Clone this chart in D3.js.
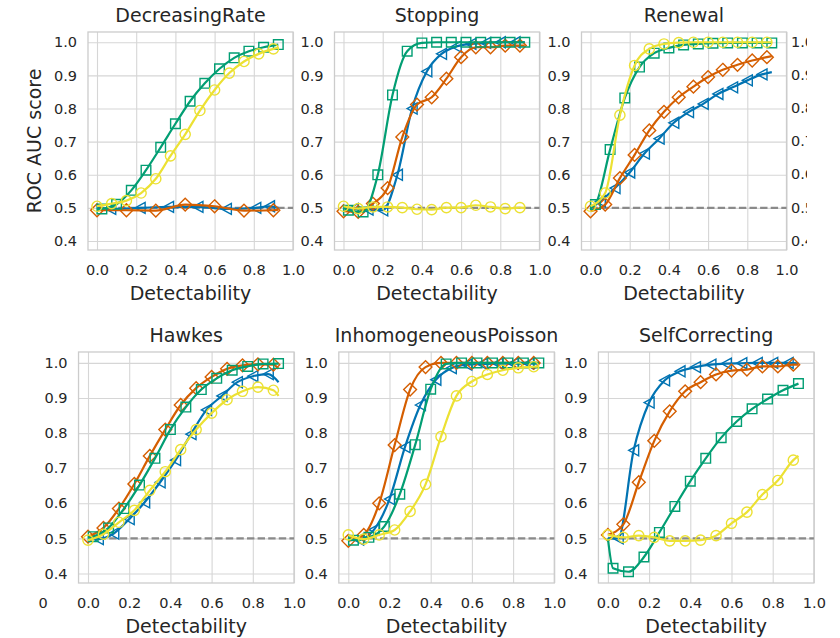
<!DOCTYPE html>
<html><head><meta charset="utf-8">
<script src="https://cdn.jsdelivr.net/npm/d3@7"></script>
<style>
body{margin:0;background:#fff;}
svg text{font-family:"DejaVu Sans",sans-serif;fill:#262626;}
</style></head><body>
<svg id="c" width="840" height="638"></svg>
<script>
// ---------- data ----------
const panelNames = ["DecreasingRate","Stopping","Renewal","Hawkes","InhomogeneousPoisson","SelfCorrecting"];
const xTicks = [0,0.2,0.4,0.6,0.8,1.0];
const yTicks = [0.4,0.5,0.6,0.7,0.8,0.9,1.0];
const chance = 0.5;

// detectability values where each series is sampled (marks = indices carrying a marker)
const xCircleDiamond = [0,0.075,0.15,0.225,0.3,0.375,0.45,0.525,0.6,0.675,0.75,0.825,0.9,0.925];
const xSquare        = [0,0.025,0.1,0.175,0.25,0.325,0.4,0.475,0.55,0.625,0.7,0.775,0.85,0.925];
const xTriangle      = [0,0.05,0.125,0.2,0.275,0.35,0.425,0.5,0.575,0.65,0.725,0.8,0.875,0.925];
const xDRDiamond     = [0,0.15,0.3,0.45,0.6,0.75,0.9,0.925];
const xDRTriangle    = [0,0.07,0.22,0.365,0.515,0.66,0.81,0.88,0.925];
const gCD  = {x:xCircleDiamond, marks:[0,12]};
const gSq  = {x:xSquare, marks:[1,13]};
const gTr  = {x:xTriangle, marks:[1,12]};
const gDRD = {x:xDRDiamond, marks:[0,6]};
const gDRT = {x:xDRTriangle, marks:[1,7]};

// ROC AUC values
const drBlue   = [0.5,0.497,0.5,0.503,0.503,0.497,0.5,0.505,0.5];
const drOrange = [0.493,0.493,0.492,0.51,0.505,0.492,0.493,0.495];
const drGreen  = [0.495,0.497,0.511,0.553,0.614,0.683,0.754,0.822,0.876,0.92,0.953,0.973,0.985,0.993];
const drYellow = [0.505,0.513,0.522,0.545,0.588,0.657,0.722,0.794,0.856,0.907,0.942,0.965,0.98,0.984];

const stBlue   = [0.5,0.497,0.495,0.493,0.60,0.80,0.912,0.965,0.987,0.995,0.998,1.0,1.0,1.0];
const stOrange = [0.49,0.488,0.513,0.56,0.714,0.812,0.834,0.89,0.955,0.985,0.985,0.99,0.99,0.99];
const stGreen  = [0.5,0.493,0.488,0.60,0.841,0.973,0.998,1.0,1.0,1.0,1.0,1.0,1.0,1.0];
const stYellow = [0.505,0.498,0.503,0.503,0.501,0.496,0.495,0.501,0.501,0.508,0.503,0.498,0.501,0.5];

const rnBlue   = [0.5,0.52,0.56,0.607,0.664,0.709,0.757,0.789,0.814,0.844,0.864,0.885,0.903,0.91];
const rnOrange = [0.49,0.51,0.59,0.66,0.734,0.79,0.834,0.866,0.895,0.917,0.932,0.945,0.955,0.958];
const rnGreen  = [0.5,0.51,0.676,0.832,0.925,0.967,0.983,0.992,0.995,0.997,0.998,0.998,0.998,0.998];
const rnYellow = [0.505,0.545,0.78,0.93,0.98,0.995,0.999,1.0,1.0,1.0,1.0,1.0,1.0,1.0];

const hkBlue   = [0.5,0.498,0.514,0.555,0.603,0.66,0.723,0.797,0.866,0.906,0.945,0.962,0.968,0.945];
const hkOrange = [0.505,0.53,0.585,0.655,0.735,0.81,0.88,0.928,0.96,0.983,0.993,0.996,0.995,0.983];
const hkGreen  = [0.5,0.505,0.53,0.585,0.652,0.728,0.81,0.874,0.924,0.956,0.979,0.99,0.997,0.998];
const hkYellow = [0.495,0.512,0.546,0.58,0.637,0.69,0.753,0.81,0.857,0.895,0.919,0.931,0.922,0.906];

const ipBlue   = [0.5,0.497,0.525,0.612,0.76,0.88,0.952,0.985,0.995,0.997,0.998,0.998,0.998,0.998];
const ipOrange = [0.493,0.51,0.60,0.766,0.924,0.988,1.0,1.0,1.0,1.0,1.0,1.0,1.0,1.0];
const ipGreen  = [0.5,0.495,0.503,0.534,0.626,0.767,0.925,0.997,1.0,1.0,1.0,1.0,1.0,1.0];
const ipYellow = [0.51,0.498,0.51,0.524,0.577,0.654,0.79,0.906,0.947,0.967,0.979,0.986,0.989,0.99];

const scBlue   = [0.5,0.5,0.751,0.887,0.95,0.976,0.988,0.995,0.998,0.999,1.0,1.0,1.0,0.999];
const scOrange = [0.51,0.54,0.66,0.778,0.862,0.919,0.945,0.967,0.978,0.981,0.99,0.99,0.995,0.995];
const scGreen  = [0.5,0.415,0.405,0.447,0.517,0.591,0.663,0.728,0.787,0.833,0.869,0.897,0.922,0.941];
const scYellow = [0.51,0.503,0.508,0.503,0.493,0.493,0.495,0.508,0.543,0.575,0.625,0.665,0.723,0.735];

const panelSeries = [
  [[drBlue,gDRT,"blue"],[drOrange,gDRD,"orange"],[drGreen,gSq,"green"],[drYellow,gCD,"yellow"]],
  [[stBlue,gTr,"blue"],[stOrange,gCD,"orange"],[stGreen,gSq,"green"],[stYellow,gCD,"yellow"]],
  [[rnBlue,gTr,"blue"],[rnOrange,gCD,"orange"],[rnGreen,gSq,"green"],[rnYellow,gCD,"yellow"]],
  [[hkBlue,gTr,"blue"],[hkOrange,gCD,"orange"],[hkGreen,gSq,"green"],[hkYellow,gCD,"yellow"]],
  [[ipBlue,gTr,"blue"],[ipOrange,gCD,"orange"],[ipGreen,gSq,"green"],[ipYellow,gCD,"yellow"]],
  [[scBlue,gTr,"blue"],[scOrange,gCD,"orange"],[scGreen,gSq,"green"],[scYellow,gCD,"yellow"]]
];

// ---------- styles / layout ----------
const styles = {
  blue:  {color:"#0173b2", shape:"M-5,0L5,-5.5L5,5.5Z"},
  orange:{color:"#d55e00", shape:"M0,-6.4L6.4,0L0,6.4L-6.4,0Z"},
  green: {color:"#029e73", shape:"M-4.8,-4.8H4.8V4.8H-4.8Z"},
  yellow:{color:"#ece133", shape:"M5.1,0A5.1,5.1 0 1,1 -5.1,0A5.1,5.1 0 1,1 5.1,0Z"}
};
const rows = [
  {yRange:[250,32], x0s:[97,343.5,590.5], unit:196},
  {yRange:[583,352], x0s:[88,348.3,607.9], unit:206}
];
const xDomain = [-0.046,1.0];
const yDomain = [0.373,1.031];
const fmt = d3.format(".1f");
const svg = d3.select("#c");

panelNames.forEach((name,i)=>{
  const r = rows[Math.floor(i/3)], c = i%3, x0 = r.x0s[c];
  const x = d3.scaleLinear().domain(xDomain).range([x0+xDomain[0]*r.unit, x0+xDomain[1]*r.unit]);
  const y = d3.scaleLinear().domain(yDomain).range(r.yRange);
  const [L,R] = x.range(), [B,T] = y.range();
  const g = svg.append("g");

  const ax = g.append("g").attr("transform",`translate(0,${B})`)
    .call(d3.axisBottom(x).tickValues(xTicks).tickFormat(fmt).tickSize(-(B-T)).tickPadding(14.3));
  const ay = g.append("g").attr("transform",`translate(${L},0)`)
    .call(d3.axisLeft(y).tickValues(yTicks).tickFormat(fmt).tickSize(-(R-L)).tickPadding(11));
  [ax,ay].forEach(a=>{
    a.select(".domain").remove();
    a.attr("font-family","DejaVu Sans").attr("font-size",14.5);
    a.selectAll("line").attr("stroke","#d6d6d6").attr("stroke-width",1.1);
    a.selectAll("text").attr("fill","#262626");
  });
  g.append("rect").attr("x",L).attr("y",T).attr("width",R-L).attr("height",B-T)
    .attr("fill","none").attr("stroke","#cccccc").attr("stroke-width",1.3);

  // chance level
  g.append("line").attr("x1",x(0)).attr("x2",x(1)).attr("y1",y(chance)).attr("y2",y(chance))
    .attr("stroke","#8a8a8a").attr("stroke-width",2.2).attr("stroke-dasharray","7.4,3.2");

  const line = d3.line().x(d=>x(d[0])).y(d=>y(d[1])).curve(d3.curveMonotoneX);
  panelSeries[i].forEach(([vals,grid,kind])=>{
    const st = styles[kind];
    const pts = grid.x.map((xv,k)=>[xv, vals[k]]);
    g.append("path").attr("d",line(pts)).attr("fill","none").attr("stroke",st.color).attr("stroke-width",2.2);
    const mk = pts.slice(grid.marks[0], grid.marks[1]+1);
    g.selectAll(null).data(mk).join("path")
      .attr("transform",d=>`translate(${x(d[0])},${y(d[1])})`)
      .attr("d",st.shape).attr("fill","none").attr("stroke",st.color).attr("stroke-width",1.4);
  });

  g.append("text").attr("x",(L+R)/2).attr("y",T-10).attr("text-anchor","middle").attr("font-size",19).text(name);
  g.append("text").attr("x",(L+R)/2).attr("y",B+50).attr("text-anchor","middle").attr("font-size",19).text("Detectability");
  if(i===0){
    g.append("text").attr("transform",`translate(41,${(T+B)/2}) rotate(-90)`).attr("text-anchor","middle")
      .attr("font-size",19).text("ROC AUC score");
  }
});

// fragments of neighbouring panels cut off by the figure crop
svg.append("text").attr("x",43).attr("y",608).attr("text-anchor","middle").attr("font-size",14.5).text("0");
svg.append("clipPath").attr("id","cut").append("rect").attr("x",780).attr("y",0).attr("width",27).attr("height",300);
const yTop = d3.scaleLinear().domain(yDomain).range(rows[0].yRange);
svg.append("g").attr("clip-path","url(#cut)").selectAll("text").data(yTicks).join("text")
  .attr("x",814).attr("y",d=>yTop(d)).attr("dy","0.32em").attr("text-anchor","end").attr("font-size",14.5).text(fmt);
</script>
</body></html>
